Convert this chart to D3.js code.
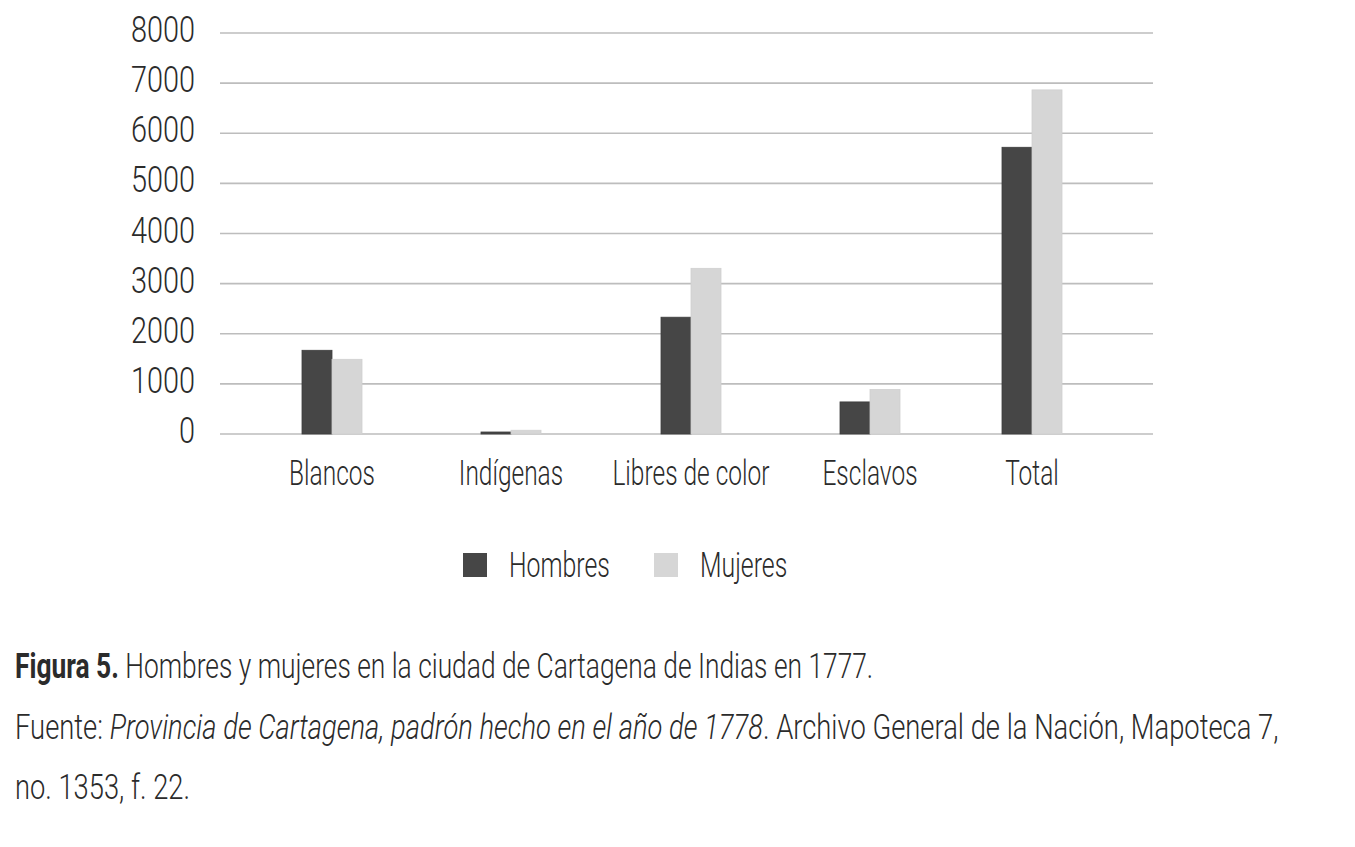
<!DOCTYPE html>
<html>
<head>
<meta charset="utf-8">
<script src="https://cdn.jsdelivr.net/npm/d3@7"></script>
<style>
  html, body { margin: 0; padding: 0; background: #ffffff; }
  svg { display: block; }
  text { font-family: Roboto, "Liberation Sans", sans-serif; font-weight: 300; fill: #2b2b2b; }
</style>
</head>
<body>
<svg id="chart" width="1355" height="847"></svg>
<script>
// ---- data ----
const categories = ["Blancos", "Indígenas", "Libres de color", "Esclavos", "Total"];
const series = ["Hombres", "Mujeres"];
const hombres = [1670, 40, 2330, 640, 5720];
const mujeres = [1490, 75, 3305, 890, 6865];
const yTicks = [0, 1000, 2000, 3000, 4000, 5000, 6000, 7000, 8000];
const colors = ["#464646", "#d6d6d6"];
const captionTitle = "Figura 5.";
const captionText = " Hombres y mujeres en la ciudad de Cartagena de Indias en 1777.";
const sourceLabel = "Fuente: ";
const sourceItalic = "Provincia de Cartagena, padrón hecho en el año de 1778";
const sourceRest = ". Archivo General de la Nación, Mapoteca 7,";
const sourceLine3 = "no. 1353, f. 22.";

// ---- layout ----
const svg = d3.select("#chart");
const plot = { left: 220, right: 1153, top: 33, bottom: 434 };

const y = d3.scaleLinear().domain([0, 8000]).range([plot.bottom, plot.top]);
const x = d3.scaleOrdinal().domain(categories).range([332, 511, 691, 870, 1032]);
const xs = d3.scaleBand().domain(series).range([-30, 30]).padding(0);
const color = d3.scaleOrdinal().domain(series).range(colors);

// condensed-text helper: horizontal compression imitates a condensed face
function ctext(g, tx, ty, size, anchor, sx) {
  return g.append("text")
    .attr("transform", `translate(${tx},${ty}) scale(${sx},1)`)
    .attr("font-size", size)
    .attr("text-anchor", anchor || "start");
}

// grid lines
svg.append("g").selectAll("line").data(yTicks).join("line")
  .attr("x1", plot.left).attr("x2", plot.right)
  .attr("y1", d => y(d)).attr("y2", d => y(d))
  .attr("stroke", "#bdbdbd").attr("stroke-width", 1.6);

// y tick labels
const yl = svg.append("g");
yTicks.forEach(t => ctext(yl, 195, y(t) + 9, 37, "end", 0.78).text(t));

// bars
const rows = categories.map((c, i) => ({ cat: c, vals: [hombres[i], mujeres[i]] }));
const bars = svg.append("g");
rows.forEach(r => {
  series.forEach((s, j) => {
    bars.append("rect")
      .attr("x", x(r.cat) + xs(s))
      .attr("width", xs.bandwidth())
      .attr("y", y(r.vals[j]))
      .attr("height", y(0) - y(r.vals[j]))
      .attr("fill", color(s))
      .attr("stroke", j === 0 ? "#3d3d3d" : "#d0d0d0")
      .attr("stroke-width", 0.8);
  });
});

// x category labels
const xl = svg.append("g");
categories.forEach(c => ctext(xl, x(c), 485, 35, "middle", 0.70).text(c));

// legend
const lg = svg.append("g");
const legendPos = [463, 654];
series.forEach((s, i) => {
  lg.append("rect").attr("x", legendPos[i]).attr("y", 553).attr("width", 24).attr("height", 24)
    .attr("fill", color(s));
  ctext(lg, legendPos[i] + 46, 577, 35, "start", 0.71).text(s);
});

// caption
const cap = svg.append("g");
const l1 = ctext(cap, 15, 678, 35, "start", 0.753);
l1.append("tspan").attr("font-weight", 700).text(captionTitle);
l1.append("tspan").text(captionText);
const l2 = ctext(cap, 15, 739, 35, "start", 0.782);
l2.append("tspan").text(sourceLabel);
l2.append("tspan").attr("font-style", "italic").text(sourceItalic);
l2.append("tspan").text(sourceRest);
ctext(cap, 15, 799, 35, "start", 0.78).text(sourceLine3);
</script>
</body>
</html>
